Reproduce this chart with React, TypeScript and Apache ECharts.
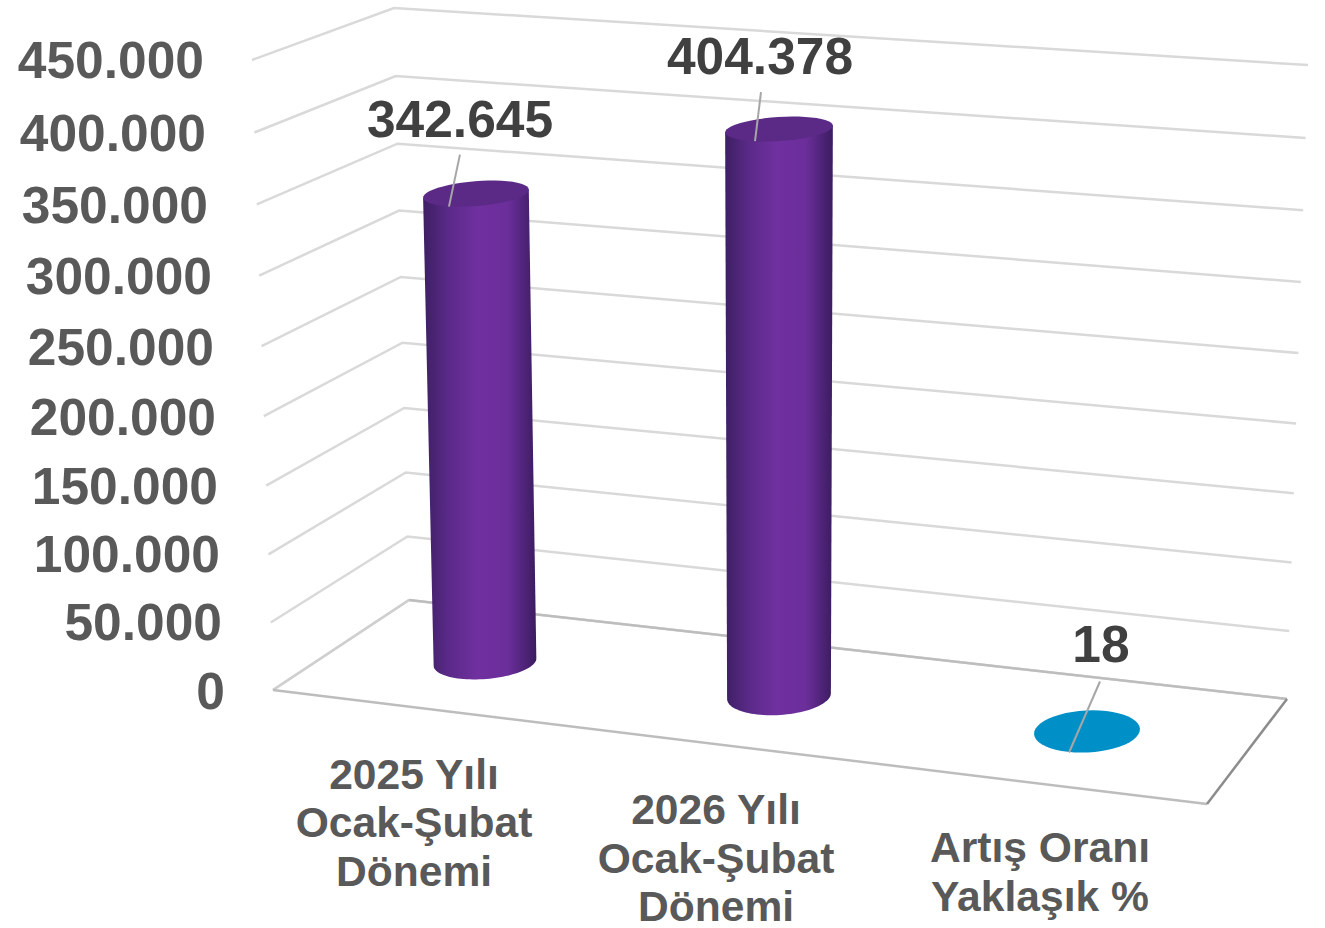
import React, { useEffect, useRef } from "react";
import * as echarts from "echarts";

// ---- data ----
const categories = ["2025 Yılı\nOcak-Şubat\nDönemi", "2026 Yılı\nOcak-Şubat\nDönemi", "Artış Oranı\nYaklaşık %"];
const values = [342645, 404378, 18];
const tickValues = [0, 50000, 100000, 150000, 200000, 250000, 300000, 350000, 400000, 450000];
const Y_MAX = 450000;

// ---- layout of the 3D box (pixels) ----
const W = 1325;
const H = 928;
const FONT = '"Liberation Sans", Arial, sans-serif';
const box = {
  frontBottom: [273, 690], frontTop: [252, 60],
  backBottom: [409, 600], backTop: [394, 8],
  rightBottom: [1287, 699], rightTop: [1308, 65],
  floorFront: [1207, 804],
};
const tickLabelRight = [225, 222, 220, 218, 216, 214, 212, 208, 206, 204];
const tickLabelY = [691, 622, 554, 486, 417, 347, 276, 205, 133, 60];
const columns = [
  { x: 485, y: 662, rise: 621, lean: -12, rx: 51.5, drx: 2, ry: 17, dry: -6, tilt: -0.08,
    labelX: 460, labelDy: -75, lineA: [-16, -39], lineB: [-27, 13], cat: [414, 822] },
  { x: 779, y: 696, rise: 633.5, lean: 0, rx: 52, drx: 2.2, ry: 19, dry: -7.8, tilt: -0.065,
    labelX: 760, labelDy: -73, lineA: [-18, -37], lineB: [-24, 12], cat: [716, 857.5] },
  { x: 1087, y: 731.5, rise: 630, lean: 0, rx: 53, drx: 0, ry: 21, dry: 0, tilt: -0.05,
    labelX: 1101, labelDy: -87, lineA: [13, -50], lineB: [-18, 21], cat: [1040, 871.5] },
];
const columnStyles = [
  { stops: ["#3d1f63", "#5a2a88", "#7030a0", "#6b2e9a", "#3b1c60"], top: "#5b2a86" },
  { stops: ["#3d1f63", "#5a2a88", "#7030a0", "#6b2e9a", "#3b1c60"], top: "#5b2a86" },
  { stops: ["#0090c8", "#0090c8", "#0090c8", "#0090c8", "#0090c8"], top: "#0090c8" },
];
const CATEGORY_LINE_STEP = 48.5;

const thousands = (v: number) => String(v).replace(/\B(?=(\d{3})+$)/g, ".");
const ease = (t: number) => t - 0.04 * t * (1 - t);
const mix = (a: number[], b: number[], e: number) => [a[0] + (b[0] - a[0]) * e, a[1] + (b[1] - a[1]) * e];

const fraction = (api: any, v: number) => {
  const y0 = api.coord([0, 0])[1];
  const y1 = api.coord([0, Y_MAX])[1];
  return (y0 - api.coord([0, v])[1]) / (y0 - y1);
};

const ellipsePoint = (cx: number, cy: number, rx: number, ry: number, tilt: number, a: number) => {
  const px = rx * Math.cos(a);
  const py = ry * Math.sin(a);
  return [cx + px * Math.cos(tilt) - py * Math.sin(tilt), cy + px * Math.sin(tilt) + py * Math.cos(tilt)];
};
const arcPoints = (cx: number, cy: number, rx: number, ry: number, tilt: number, from: number, to: number) => {
  const out: number[][] = [];
  for (let i = 0; i <= 48; i++) out.push(ellipsePoint(cx, cy, rx, ry, tilt, from + ((to - from) * i) / 48));
  return out;
};

const textStyle = (text: string, size: number, fill: string, align: string) => ({
  text,
  fill,
  fontFamily: FONT,
  fontWeight: "bold",
  fontSize: size,
  align,
  verticalAlign: "middle",
});

const renderGridLine = (params: any, api: any) => {
  const v = api.value(1);
  const e = ease(fraction(api, v));
  const a = mix(box.frontBottom, box.frontTop, e);
  const b = mix(box.backBottom, box.backTop, e);
  const c = mix(box.rightBottom, box.rightTop, e);
  const i = params.dataIndex;
  return {
    type: "group",
    children: [
      {
        type: "polyline",
        shape: { points: [a, b, c] },
        style: { stroke: "#d9d9d9", lineWidth: 2.5, fill: "none" },
      },
      {
        type: "text",
        x: tickLabelRight[i],
        y: tickLabelY[i],
        style: textStyle(thousands(v), 51.5, "#595959", "right"),
      },
    ],
  };
};

const renderFloor = () => {
  const line = (p: number[], q: number[], stroke: string) => ({
    type: "line",
    shape: { x1: p[0], y1: p[1], x2: q[0], y2: q[1] },
    style: { stroke, lineWidth: 2.5 },
  });
  return {
    type: "group",
    children: [
      line(box.backBottom, box.rightBottom, "#bdbdbd"),
      line(box.frontBottom, box.backBottom, "#cfcfcf"),
      line(box.frontBottom, box.floorFront, "#bdbdbd"),
      line(box.floorFront, box.rightBottom, "#8c8c8c"),
    ],
  };
};

const renderColumn = (params: any, api: any) => {
  const i = params.dataIndex;
  const v = api.value(1);
  const c = columns[i];
  const s = columnStyles[i];
  const e = ease(fraction(api, v));
  const tx = c.x + c.lean * e;
  const ty = c.y - c.rise * e;
  const trx = c.rx + c.drx * e;
  const tryy = c.ry + c.dry * e;
  const children: any[] = [];
  if (c.y - ty > 1) {
    const topLeft = ellipsePoint(tx, ty, trx, tryy, c.tilt, Math.PI);
    const topRight = ellipsePoint(tx, ty, trx, tryy, c.tilt, 0);
    const lower = arcPoints(c.x, c.y, c.rx, c.ry, c.tilt, Math.PI, 0);
    children.push({
      type: "polygon",
      shape: { points: [topLeft, ...lower, topRight] },
      style: {
        fill: new echarts.graphic.LinearGradient(0, 0, 1, 0, [
          { offset: 0, color: s.stops[0] },
          { offset: 0.22, color: s.stops[1] },
          { offset: 0.48, color: s.stops[2] },
          { offset: 0.75, color: s.stops[3] },
          { offset: 1, color: s.stops[4] },
        ]),
      },
    });
  }
  children.push({
    type: "polygon",
    shape: { points: arcPoints(tx, ty, trx, tryy, c.tilt, 0, Math.PI * 2) },
    style: { fill: s.top },
  });
  children.push({
    type: "line",
    shape: { x1: tx + c.lineA[0], y1: ty + c.lineA[1], x2: tx + c.lineB[0], y2: ty + c.lineB[1] },
    style: { stroke: "#a6a6a6", lineWidth: 2 },
  });
  children.push({
    type: "text",
    x: c.labelX,
    y: ty + c.labelDy,
    style: textStyle(thousands(v), 51.5, "#404040", "center"),
  });
  const lines = categories[i].split("\n");
  lines.forEach((line, j) => {
    children.push({
      type: "text",
      x: c.cat[0],
      y: c.cat[1] + (j - (lines.length - 1) / 2) * CATEGORY_LINE_STEP,
      style: textStyle(line, 42.6, "#595959", "center"),
    });
  });
  return { type: "group", children };
};

export default function App() {
  const ref = useRef<HTMLDivElement>(null);
  useEffect(() => {
    if (!ref.current) return;
    document.body.style.margin = "0";
    const chart = echarts.init(ref.current, undefined, { renderer: "svg" });
    chart.setOption({
      animation: false,
      backgroundColor: "#ffffff",
      grid: { left: 0, right: 0, top: 0, bottom: 0 },
      xAxis: { type: "category", show: false, data: categories },
      yAxis: { type: "value", show: false, min: 0, max: Y_MAX, interval: 50000 },
      tooltip: { show: false },
      series: [
        {
          type: "custom",
          name: "grid",
          silent: true,
          renderItem: renderGridLine,
          data: tickValues.map((v) => [0, v]),
          z: 1,
        },
        {
          type: "custom",
          name: "floor",
          silent: true,
          renderItem: renderFloor,
          data: [[0, 0]],
          z: 2,
        },
        {
          type: "custom",
          name: "columns",
          silent: true,
          renderItem: renderColumn,
          data: values.map((v, i) => [i, v]),
          z: 3,
        },
      ],
    });
    return () => chart.dispose();
  }, []);
  return <div ref={ref} style={{ width: W, height: H }} />;
}
